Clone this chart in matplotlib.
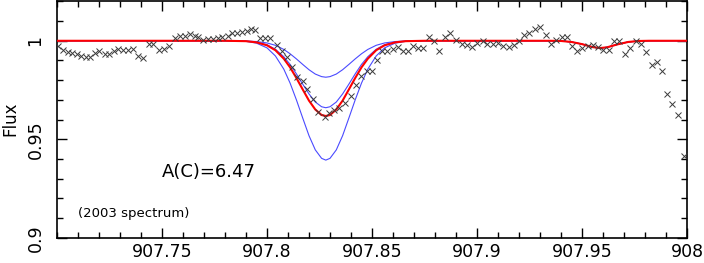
import matplotlib
matplotlib.use("Agg")
import matplotlib.pyplot as plt
from matplotlib.ticker import MultipleLocator

# Observed spectrum (2003)
obs_wave = [907.7006, 907.7030, 907.7051, 907.7073, 907.7094, 907.7114, 907.7137, 907.7157,
            907.7181, 907.7201, 907.7229, 907.7249, 907.7273, 907.7292, 907.7316, 907.7340,
            907.7363, 907.7387, 907.7408, 907.7438, 907.7459, 907.7486, 907.7511, 907.7535,
            907.7562, 907.7586, 907.7610, 907.7633, 907.7657, 907.7673, 907.7697, 907.7720,
            907.7744, 907.7768, 907.7787, 907.7813, 907.7832, 907.7856, 907.7880, 907.7903,
            907.7922, 907.7943, 907.7967, 907.7990, 907.8014, 907.8046, 907.8070, 907.8094,
            907.8118, 907.8141, 907.8170, 907.8192, 907.8218, 907.8244, 907.8276, 907.8297,
            907.8320, 907.8344, 907.8371, 907.8400, 907.8422, 907.8448, 907.8475, 907.8499,
            907.8522, 907.8546, 907.8573, 907.8599, 907.8622, 907.8646, 907.8673, 907.8697,
            907.8720, 907.8744, 907.8773, 907.8795, 907.8820, 907.8848, 907.8871, 907.8900,
            907.8927, 907.8951, 907.8975, 907.9001, 907.9027, 907.9049, 907.9075, 907.9101,
            907.9125, 907.9154, 907.9176, 907.9201, 907.9224, 907.9249, 907.9276, 907.9300,
            907.9329, 907.9351, 907.9376, 907.9403, 907.9427, 907.9451, 907.9475, 907.9501,
            907.9527, 907.9554, 907.9578, 907.9601, 907.9629, 907.9652, 907.9678, 907.9705,
            907.9729, 907.9756, 907.9780, 907.9805, 907.9832, 907.9856, 907.9880, 907.9903,
            907.9930, 907.9959, 907.9986]
obs_flux = [0.9975, 0.9953, 0.9941, 0.9938, 0.9933, 0.9924, 0.9916, 0.9919,
            0.9938, 0.9946, 0.9933, 0.9933, 0.9950, 0.9958, 0.9953, 0.9953,
            0.9958, 0.9921, 0.9911, 0.9983, 0.9986, 0.9953, 0.9958, 0.9971,
            1.0012, 1.0022, 1.0025, 1.0034, 1.0025, 1.0017, 1.0003, 1.0009,
            1.0009, 1.0012, 1.0017, 1.0022, 1.0039, 1.0042, 1.0045, 1.0051,
            1.0062, 1.0056, 1.0012, 1.0012, 1.0012, 0.9978, 0.9949, 0.9919,
            0.9865, 0.9818, 0.9794, 0.9756, 0.9705, 0.9638, 0.9613, 0.9635,
            0.9646, 0.9660, 0.9685, 0.9722, 0.9773, 0.9823, 0.9848, 0.9848,
            0.9902, 0.9949, 0.9949, 0.9958, 0.9966, 0.9949, 0.9949, 0.9975,
            0.9961, 0.9961, 1.0020, 1.0000, 0.9946, 1.0020, 1.0042, 1.0004,
            0.9985, 0.9977, 0.9970, 0.9987, 1.0000, 0.9983, 0.9983, 0.9987,
            0.9975, 0.9966, 0.9978, 1.0000, 1.0029, 1.0042, 1.0059, 1.0072,
            1.0029, 0.9983, 1.0004, 1.0017, 1.0020, 0.9975, 0.9949, 0.9963,
            0.9971, 0.9978, 0.9966, 0.9955, 0.9955, 1.0000, 0.9997, 0.9933,
            0.9961, 0.9997, 0.9983, 0.9941, 0.9879, 0.9891, 0.9848, 0.9730,
            0.9680, 0.9621, 0.9416]

# Synthetic spectra (sampled)
model_wave = [907.700, 907.780, 907.790, 907.795, 907.800, 907.804, 907.808, 907.811,
              907.814, 907.817, 907.820, 907.823, 907.826, 907.828, 907.830, 907.833,
              907.836, 907.839, 907.842, 907.845, 907.848, 907.852, 907.856, 907.861,
              907.866, 907.875, 907.935, 907.940, 907.945, 907.950, 907.955, 907.9586,
              907.962, 907.967, 907.972, 907.977, 907.982, 908.000]
tail = [1.0000, 1.0000, 0.9999, 0.9994, 0.9983, 0.9968, 0.9963, 0.9967, 0.9982, 0.9994,
        0.9999, 1.0000, 1.0000]
blue_shallow = [1.0000, 1.0000, 0.9999, 0.9996, 0.9989, 0.9977, 0.9956, 0.9934,
                0.9908, 0.9880, 0.9853, 0.9831, 0.9818, 0.9815, 0.9818, 0.9831,
                0.9853, 0.9880, 0.9908, 0.9934, 0.9956, 0.9977, 0.9989, 0.9996,
                0.9999] + tail
blue_mid = [1.0000, 1.0000, 0.9998, 0.9993, 0.9980, 0.9957, 0.9919, 0.9880,
            0.9832, 0.9780, 0.9730, 0.9689, 0.9665, 0.9660, 0.9665, 0.9689,
            0.9730, 0.9780, 0.9832, 0.9880, 0.9919, 0.9957, 0.9980, 0.9993,
            0.9998] + tail
red_best = [1.0000, 1.0000, 0.9998, 0.9992, 0.9977, 0.9952, 0.9909, 0.9865,
            0.9811, 0.9753, 0.9696, 0.9651, 0.9623, 0.9618, 0.9623, 0.9651,
            0.9696, 0.9753, 0.9811, 0.9865, 0.9909, 0.9952, 0.9977, 0.9992,
            0.9998] + tail
blue_deep = [1.0000, 1.0000, 0.9997, 0.9988, 0.9964, 0.9923, 0.9856, 0.9785,
             0.9700, 0.9608, 0.9518, 0.9446, 0.9403, 0.9394, 0.9403, 0.9446,
             0.9518, 0.9608, 0.9700, 0.9785, 0.9856, 0.9923, 0.9964, 0.9988,
             0.9997] + tail

x_ticks = [907.75, 907.8, 907.85, 907.9, 907.95, 908.0]
x_labels = ["907.75", "907.8", "907.85", "907.9", "907.95", "908"]
y_ticks = [0.9, 0.95, 1.0]
y_labels = ["0.9", "0.95", "1"]

plt.rcParams['font.family'] = ['DejaVu Sans']
fig = plt.figure(figsize=(7.04, 2.63), dpi=100)
ax = fig.add_axes([57/704, 1 - 237.7/263, 630/704, 236.7/263])

blue = '#4a4aff'
for fl in (blue_shallow, blue_mid, blue_deep):
    ax.plot(model_wave, fl, color=blue, lw=0.8, zorder=2)
ax.plot(model_wave, red_best, color='#ff0000', lw=1.5, zorder=3)
ax.plot(obs_wave, obs_flux, linestyle='none', marker='x', ms=4, mew=0.7,
        color='#3a3a3a', zorder=4)

ax.set_xlim(907.70, 908.00)
ax.set_ylim(0.9, 1.0202)
ax.set_xticks(x_ticks)
ax.set_xticklabels(x_labels)
ax.set_yticks(y_ticks)
ax.set_yticklabels(y_labels)
ax.xaxis.set_minor_locator(MultipleLocator(0.01))
ax.yaxis.set_minor_locator(MultipleLocator(0.01))
ax.tick_params(which='both', direction='in', top=True, right=True, width=1.0,
               labelsize=12.5)
ax.tick_params(which='major', length=7)
ax.tick_params(which='minor', length=4.5)
ax.tick_params(axis='x', pad=3.5)
ax.tick_params(axis='y', pad=9)
for lab in ax.get_yticklabels():
    lab.set_rotation(90)
    lab.set_va('center')
for sp in ax.spines.values():
    sp.set_linewidth(1.2)

fig.text(10/704, 1 - 119/263, 'Flux', fontsize=12, rotation=90,
         ha='center', va='center')

ax.text(907.75, 0.9333, 'A(C)=6.47', fontsize=13, ha='left', va='center')
ax.text(907.710, 0.9121, '(2003 spectrum)', fontsize=9.5, ha='left', va='center')

fig.savefig('out.png', dpi=100)
